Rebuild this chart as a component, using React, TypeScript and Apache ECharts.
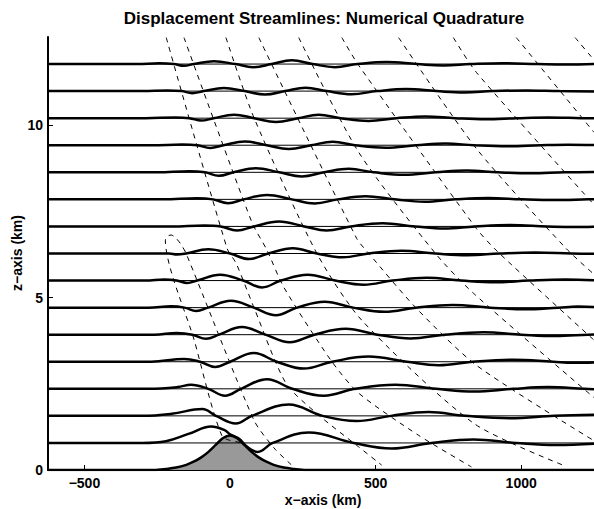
import React, { useEffect, useRef } from "react";
import * as echarts from "echarts";

const X_MIN = -625;
const X_MAX = 1250;
const Z_MAX = 12.566;
const xTicks = [-500, 0, 500, 1000];
const zTicks = [0, 5, 10];

const titleText = "Displacement Streamlines: Numerical Quadrature";
const xName = "x\u2212axis (km)";
const zName = "z\u2212axis (km)";

// undisturbed heights of the streamlines (km)
const levels = [0.785, 1.571, 2.356, 3.142, 3.927, 4.712, 5.498, 6.283, 7.069, 7.854, 8.639, 9.425, 10.21, 10.996, 11.781];

// displacement of each streamline [x km, dz km]
const disp1 = [[-625,0],[-300,0],[-220,0.05],[-140,0.27],[-65,0.48],[-20,0.38],[0,0.25],[30,0.13],[60,-0.12],[95,-0.26],[147,0],[270,0.3],[425,0],[555,-0.16],[692,0],[836,0.1],[982,0],[1120,-0.06],[1250,-0.02]];
const disp2 = [[-625,0],[-300,0],[-200,0.06],[-95,0.2],[-48,0],[20,-0.22],[75,0],[202,0.33],[318,0],[435,-0.15],[553,0],[682,0.11],[808,0],[962,-0.07],[1115,0],[1250,0.03]];
const disp3 = [[-625,0],[-280,0],[-180,0.05],[-134,0.12],[-75,0],[-17,-0.2],[38,0],[127,0.28],[214,0],[322,-0.2],[429,0],[568,0.12],[708,0],[839,-0.08],[972,0],[1092,0.05],[1218,0],[1250,-0.01]];
const disp4 = [[-625,0],[-270,0],[-158,0.08],[-103,0],[-51,-0.15],[0,0],[82,0.25],[161,0],[253,-0.2],[351,0],[476,0.15],[607,0],[716,-0.1],[833,0],[973,0.06],[1110,0],[1178,-0.03],[1250,-0.02]];
const disp5 = [[-625,0],[-260,0],[-182,0.05],[-129,0],[-82,-0.12],[-38,0],[41,0.22],[122,0],[205,-0.22],[290,0],[397,0.17],[506,0],[620,-0.11],[736,0],[870,0.07],[1001,0],[1116,-0.04],[1229,0],[1250,0.005]];
const disp6 = [[-625,0],[-280,0],[-202,0.04],[-156,0],[-116,-0.1],[-75,0],[3,0.2],[82,0],[158,-0.22],[230,0],[325,0.17],[423,0],[531,-0.12],[638,0],[764,0.08],[893,0],[1010,-0.05],[1128,0],[1195,0.03],[1250,0.02]];
const disp7 = [[-625,0],[-290,0],[-226,0.03],[-183,0],[-147,-0.07],[-113,0],[-34,0.17],[45,0],[110,-0.2],[175,0],[267,0.17],[361,0],[459,-0.12],[558,0],[675,0.08],[794,0],[911,-0.05],[1027,0],[1151,0.03],[1250,0.01]];
const disp8 = [[-625,0],[-260,0],[-209,0],[-182,-0.03],[-151,0],[-75,0.12],[0,0],[65,-0.16],[132,0],[216,0.15],[298,0],[387,-0.11],[476,0],[589,0.08],[705,0],[815,-0.05],[926,0],[1048,0.03],[1173,0],[1250,-0.01]];
const disp9 = [[-625,0],[-200,0],[-89,0.03],[-32,0],[24,-0.12],[83,0],[168,0.14],[255,0],[332,-0.12],[415,0],[524,0.09],[635,0],[736,-0.06],[841,0],[962,0.04],[1087,0],[1178,-0.02],[1250,-0.01]];
const disp10 = [[-625,0],[-230,0],[-113,0.03],[-59,0],[-7,-0.11],[47,0],[127,0.13],[212,0],[291,-0.12],[370,0],[466,0.09],[564,0],[668,-0.07],[774,0],[887,0.04],[1003,0],[1116,-0.02],[1231,0],[1250,0.002]];
const disp11 = [[-625,0],[-250,0],[-140,0.03],[-86,0],[-38,-0.1],[12,0],[89,0.12],[169,0],[247,-0.12],[324,0],[408,0.1],[494,0],[599,-0.07],[707,0],[812,0.05],[920,0],[1034,-0.03],[1149,0],[1250,0.01]];
const disp12 = [[-625,0],[-270,0],[-164,0.02],[-112,0],[-68,-0.08],[-22,0],[51,0.11],[126,0],[202,-0.11],[279,0],[353,0.1],[429,0],[534,-0.07],[640,0],[740,0.05],[838,0],[952,-0.03],[1067,0],[1161,0.015],[1250,0.005]];
const disp13 = [[-625,0],[-290,0],[-188,0.02],[-139,0],[-99,-0.07],[-56,0],[14,0.1],[83,0],[158,-0.11],[234,0],[305,0.1],[380,0],[476,-0.08],[572,0],[671,0.05],[773,0],[877,-0.03],[985,0],[1092,0.02],[1206,0],[1250,-0.005]];
const disp14 = [[-625,0],[-300,0],[-216,0.02],[-166,0],[-130,-0.06],[-90,0],[-21,0.09],[50,0],[120,-0.1],[189,0],[260,0.1],[332,0],[418,-0.09],[505,0],[606,0.06],[708,0],[805,-0.04],[902,0],[1017,0.02],[1131,0],[1250,-0.01]];
const disp15 = [[-625,0],[-320,0],[-243,0.02],[-193,0],[-158,-0.05],[-124,0],[-55,0.08],[18,0],[79,-0.09],[143,0],[212,0.11],[284,0],[360,-0.09],[438,0],[538,0.06],[642,0],[733,-0.04],[827,0],[938,0.025],[1056,0],[1151,-0.015],[1250,0]];
const displacements = [disp1, disp2, disp3, disp4, disp5, disp6, disp7, disp8, disp9, disp10, disp11, disp12, disp13, disp14, disp15];

// mountain profile [x km, height km]
const terrain = [[-625,0],[-260,0],[-220,0.03],[-185,0.07],[-150,0.15],[-125,0.24],[-100,0.36],[-75,0.52],[-50,0.72],[-25,0.92],[0,1.0],[25,0.92],[50,0.72],[75,0.52],[100,0.36],[125,0.24],[150,0.15],[185,0.07],[220,0.03],[260,0],[1250,0]];

// dashed zero-displacement contours [x km, z km]
const zeroHook = [[35,0.8],[-27,0.98],[-123,3.77],[-222,6.67],[-216,6.78],[-202,6.82],[-188,6.75],[-171,6.58],[-151,6.29],[82,1.45],[151,0.64],[212,0.14]];
const zeroP = [[-219,12.55],[-10,6.43],[21,6.0],[82,4.72],[192,2.52],[305,1.59],[442,0.67],[521,0.14]];
const zeroQ = [[-158,12.55],[75,7.19],[127,6.38],[185,5.3],[346,3.19],[442,2.23],[647,1.01],[829,0.09]];
const zeroR = [[-14,12.55],[82,10.23],[298,6.29],[452,4.35],[836,1.36],[1144,0.14]];
const zeroS = [[99,12.55],[435,6.72],[476,6.29],[637,4.72],[846,3.04],[1250,0.85]];
const zeroT = [[236,12.55],[442,9.22],[705,6.29],[836,5.13],[1250,2.1]];
const zeroU = [[384,12.55],[442,11.74],[846,7.01],[921,6.32],[1250,3.77]];
const zeroV = [[579,12.55],[846,9.33],[1154,6.43],[1250,5.68]];
const zeroW = [[767,12.55],[846,11.54],[1250,7.7]];
const zeroX = [[983,12.55],[1250,9.8]];
const zeroY = [[1185,12.55],[1250,11.9]];
const zeroContours = [zeroHook, zeroP, zeroQ, zeroR, zeroS, zeroT, zeroU, zeroV, zeroW, zeroX, zeroY];

const FONT = '"Liberation Sans", Arial, Helvetica, sans-serif';

const fmt = (v: number) => (v < 0 ? "\u2212" + Math.abs(v) : String(v));

export default function App() {
  const ref = useRef<HTMLDivElement>(null);
  useEffect(() => {
    if (!ref.current) return;
    const chart = echarts.init(ref.current, null, { renderer: "svg" });

    const baseSeries = levels.map((z0) => ({
      type: "line",
      data: [[X_MIN, z0], [X_MAX, z0]],
      symbol: "none",
      silent: true,
      lineStyle: { color: "#000", width: 1 },
      z: 2,
    }));
    const waveSeries = levels.map((z0, i) => ({
      type: "line",
      data: displacements[i].map(([x, d]) => [x, z0 + d]),
      symbol: "none",
      silent: true,
      smooth: 0.4,
      lineStyle: { color: "#000", width: 2.5 },
      z: 3,
    }));
    const dashSeries = zeroContours.map((c) => ({
      type: "line",
      data: c,
      symbol: "none",
      silent: true,
      smooth: 0.25,
      lineStyle: { color: "#000", width: 1, type: [5, 5] },
      z: 4,
    }));

    chart.setOption({
      animation: false,
      backgroundColor: "#fff",
      grid: { left: 48, right: -2, top: 37, bottom: 39 },
      xAxis: {
        type: "value",
        min: X_MIN,
        max: X_MAX,
        splitLine: { show: false },
        axisLine: { show: true, onZero: false, lineStyle: { color: "#000", width: 2 } },
        axisTick: { show: true, inside: true, length: 5, customValues: xTicks, lineStyle: { color: "#000", width: 1 } },
        axisLabel: {
          customValues: xTicks,
          formatter: fmt,
          color: "#000",
          fontWeight: "bold",
          fontSize: 14,
          fontFamily: FONT,
          margin: 6,
        },
      },
      yAxis: {
        type: "value",
        min: 0,
        max: Z_MAX,
        splitLine: { show: false },
        axisLine: { show: true, onZero: false, lineStyle: { color: "#000", width: 2 } },
        axisTick: { show: true, inside: true, length: 5, customValues: zTicks, lineStyle: { color: "#000", width: 1 } },
        axisLabel: {
          customValues: zTicks,
          formatter: fmt,
          color: "#000",
          fontWeight: "bold",
          fontSize: 14,
          fontFamily: FONT,
          margin: 5,
        },
      },
      graphic: [
        {
          type: "text",
          x: 324,
          y: 18,
          style: { text: titleText, font: `bold 17px ${FONT}`, fill: "#000", textAlign: "center", textVerticalAlign: "middle", align: "center", verticalAlign: "middle" },
        },
        {
          type: "text",
          x: 323,
          y: 500,
          style: { text: xName, font: `bold 14px ${FONT}`, fill: "#000", textAlign: "center", textVerticalAlign: "middle", align: "center", verticalAlign: "middle" },
        },
        {
          type: "text",
          x: 17,
          y: 253,
          rotation: Math.PI / 2,
          style: { text: zName, font: `bold 14px ${FONT}`, fill: "#000", textAlign: "center", textVerticalAlign: "middle", align: "center", verticalAlign: "middle" },
        },
      ],
      series: [
        {
          type: "line",
          data: terrain,
          symbol: "none",
          silent: true,
          smooth: 0.3,
          lineStyle: { color: "#000", width: 2.5 },
          areaStyle: { color: "#999999", opacity: 1 },
          z: 1,
        },
        ...baseSeries,
        ...waveSeries,
        ...dashSeries,
      ],
    });
    return () => chart.dispose();
  }, []);
  return <div ref={ref} style={{ position: "absolute", left: 0, top: 0, width: 594, height: 509 }} />;
}
